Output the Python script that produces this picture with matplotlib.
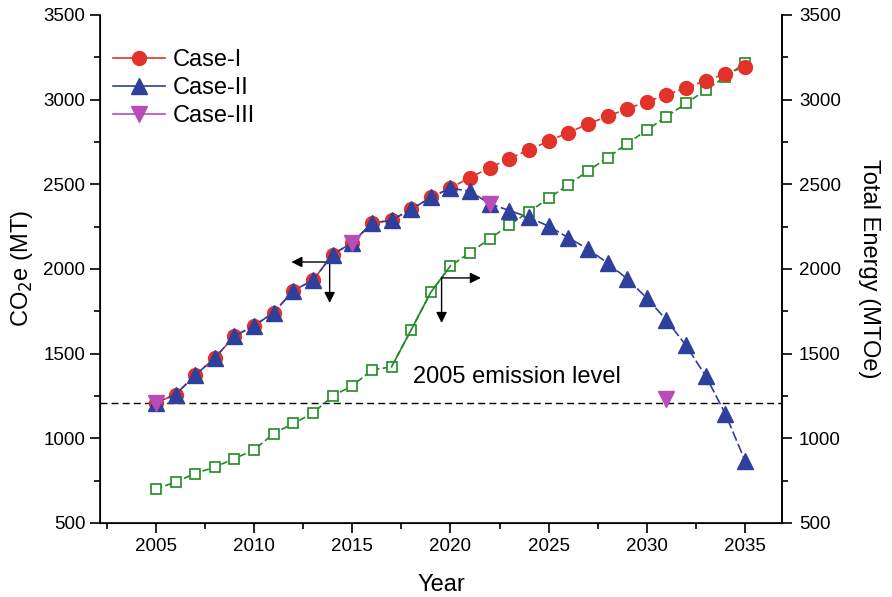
import numpy as np
import matplotlib.pyplot as plt
from matplotlib.lines import Line2D
from matplotlib.ticker import MultipleLocator

plt.rcParams['font.family'] = ['Liberation Sans', 'DejaVu Sans']

years = np.arange(2005, 2036)

# CO2e emissions (MT), Case-I: business as usual
case1 = [1210, 1258, 1372, 1475, 1603, 1665, 1742, 1872, 1933, 2085,
         2155, 2270, 2288, 2352, 2422, 2478, 2540, 2597, 2652, 2703,
         2755, 2805, 2855, 2902, 2945, 2988, 3028, 3070, 3112, 3152, 3193]
# Case-II: follows Case-I up to 2020, then declines
case2 = [1210, 1258, 1372, 1475, 1603, 1665, 1742, 1872, 1933, 2085,
         2155, 2270, 2288, 2352, 2422, 2478, 2458, 2385, 2345, 2305,
         2252, 2185, 2118, 2035, 1942, 1828, 1698, 1548, 1368, 1145, 868]
# Case-III: selected years only
years3 = [2005, 2015, 2022, 2031]
case3 = [1210, 2155, 2385, 1235]
# Total energy demand (MTOe)
energy = [700, 742, 792, 830, 880, 932, 1028, 1088, 1148, 1250,
          1310, 1403, 1422, 1640, 1862, 2018, 2097, 2178, 2260, 2337,
          2418, 2497, 2578, 2657, 2740, 2820, 2900, 2977, 3057, 3135, 3215]
emission_2005 = 1210

red = '#e2322a'
blue = '#2e3f9c'
pink = '#b84db8'
green = '#1f8a24'

fig = plt.figure(figsize=(8.92, 5.97), dpi=100)
ax = fig.add_axes([0.112, 0.124, 0.765, 0.851])

# energy curve sits on the same scale as the emissions, so draw it here first
ax.plot(years, energy, color=green, lw=1.2, ls=(0, (4, 2)), marker='s',
        ms=7, mfc='white', mec=green, mew=1.2, zorder=2)
ax.plot(years[12:16], energy[12:16], color=green, lw=1.2, zorder=2)

ax.axhline(emission_2005, color='black', lw=1.0, ls=(0, (5, 3)), zorder=1)

ax.plot(years, case1, color=red, lw=1.2, ls=(0, (4, 2)), marker='o',
        ms=10, mec=red, mfc=red, zorder=3)
ax.plot(years, case2, color=blue, lw=1.2, ls=(0, (6, 2)), marker='^',
        ms=11, mec=blue, mfc=blue, zorder=4)
ax.plot(years3, case3, ls='none', marker='v', ms=11, mec=pink, mfc=pink,
        zorder=5)

ax.text(2018.1, 1362, '2005 emission level', fontsize=17, va='center',
        ha='left')

# arrows pointing to the axis each curve belongs to
arrow = dict(arrowstyle='-|>', color='black', lw=1.0, mutation_scale=16,
             shrinkA=0, shrinkB=0)
ax.annotate('', xy=(2011.9, 2041), xytext=(2013.85, 2041), arrowprops=arrow)
ax.annotate('', xy=(2013.85, 1799), xytext=(2013.85, 2041), arrowprops=arrow)
ax.annotate('', xy=(2021.55, 1947), xytext=(2019.55, 1947), arrowprops=arrow)
ax.annotate('', xy=(2019.55, 1681), xytext=(2019.55, 1947), arrowprops=arrow)

ax.set_xlim(2002.15, 2036.9)
ax.set_ylim(500, 3500)
ax.xaxis.set_major_locator(MultipleLocator(5))
ax.xaxis.set_minor_locator(MultipleLocator(2.5))
ax.yaxis.set_major_locator(MultipleLocator(500))
ax.yaxis.set_minor_locator(MultipleLocator(250))
ax.spines['top'].set_visible(False)
for s in ['left', 'bottom', 'right']:
    ax.spines[s].set_linewidth(1.2)
ax.tick_params(which='major', direction='out', length=7, width=1.2,
               labelsize=13.5)
ax.tick_params(which='minor', direction='out', length=4, width=1.2)
ax.set_xlabel('Year', fontsize=17, labelpad=14)
ax.set_ylabel('CO$_2$e (MT)', fontsize=17, labelpad=6)

ax2 = ax.twinx()
ax2.set_ylim(500, 3500)
ax2.yaxis.set_major_locator(MultipleLocator(500))
ax2.yaxis.set_minor_locator(MultipleLocator(250))
ax2.spines['top'].set_visible(False)
ax2.spines['right'].set_linewidth(1.2)
ax2.tick_params(which='major', direction='out', length=7, width=1.2,
                labelsize=13.5, pad=5)
ax2.tick_params(which='minor', direction='out', length=4, width=1.2)
ax2.set_ylabel('Total Energy (MTOe)', fontsize=17, rotation=270,
               labelpad=28)

handles = [
    Line2D([], [], color=red, lw=1.2, marker='o', ms=10),
    Line2D([], [], color=blue, lw=1.2, marker='^', ms=11),
    Line2D([], [], color=pink, lw=1.2, marker='v', ms=11),
]
ax.legend(handles, ['Case-I', 'Case-II', 'Case-III'], loc='upper left',
          frameon=False, fontsize=17, handlelength=2.2, handletextpad=0.35,
          borderaxespad=0.3, labelspacing=0.25,
          bbox_to_anchor=(-0.005, 0.965))

fig.savefig('out.png', dpi=100)
